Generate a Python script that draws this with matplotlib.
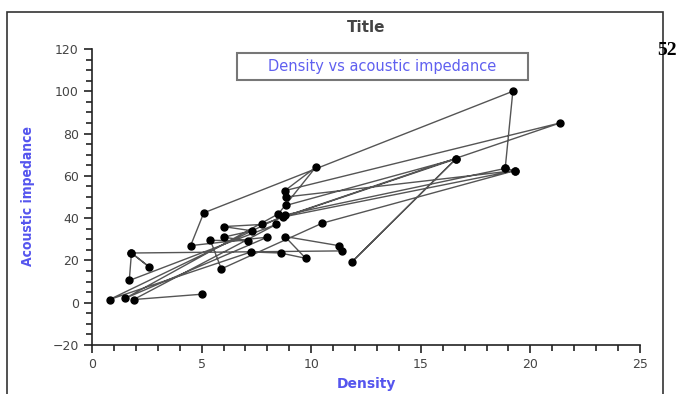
import matplotlib
matplotlib.use('Agg')
import matplotlib.pyplot as plt
from matplotlib.patches import Rectangle
from matplotlib.ticker import MultipleLocator

# puntos en el orden de los datos (densidad, impedancia acustica)
density = [5.0, 1.9, 8.4, 1.7, 1.8, 2.6, 1.8, 11.4, 11.25, 8.8, 9.75, 8.6, 7.25,
           0.8, 8.8, 18.85, 19.2, 5.1, 4.5, 8.0, 1.5, 8.5, 10.2, 8.8, 21.35, 8.7,
           19.3, 8.85, 8.85, 16.6, 11.85, 16.6, 7.75, 6.0, 7.3, 6.0, 7.1, 5.4,
           5.9, 10.5, 19.3, 18.85]
impedance = [4, 1.5, 37, 10.5, 23.5, 17, 23.5, 24.5, 27, 31.3, 21, 23.5, 24,
             1.5, 41.5, 63.5, 100, 42.5, 27, 31, 2, 42, 64, 53, 85, 40.5,
             62.5, 50, 46, 68, 19.2, 68, 37, 36, 34, 31, 29.3, 29.5,
             16, 37.6, 62.5, 63.5]

fig = plt.figure(figsize=(6.82, 3.94), dpi=100)
ax = fig.add_axes([0.1349, 0.1244, 0.8035, 0.7513])

ax.plot(density, impedance, color='#555555', lw=1, marker='o',
        markersize=5, markerfacecolor='black', markeredgecolor='black')

ax.set_xlim(0, 25)
ax.set_ylim(-20, 120)
ax.xaxis.set_major_locator(MultipleLocator(5))
ax.xaxis.set_minor_locator(MultipleLocator(1))
ax.yaxis.set_major_locator(MultipleLocator(20))
ax.yaxis.set_minor_locator(MultipleLocator(5))
ax.tick_params(which='major', length=6, width=1.2, color='#222222',
               labelcolor='#444444', labelsize=9)
ax.tick_params(which='minor', length=4, width=1.2, color='#222222')
for s in ['top', 'right']:
    ax.spines[s].set_visible(False)
for s in ['left', 'bottom']:
    ax.spines[s].set_linewidth(1.2)
    ax.spines[s].set_color('#222222')

# marco exterior
fig.patches.append(Rectangle((7/682, -0.02), 656/682, 1.02 - 12/394,
                             transform=fig.transFigure, fill=False,
                             edgecolor='#333333', lw=1.2))

fig.text(0.537, 0.929, 'Title', ha='center', va='center', fontsize=11,
         fontweight='bold', color='#444444')

fig.patches.append(Rectangle((237/682, 1 - 80/394), 291/682, 27/394,
                             transform=fig.transFigure, fill=False,
                             edgecolor='#777777', lw=1.5))
fig.text(0.561, 0.831, 'Density vs acoustic impedance', ha='center',
         va='center', fontsize=10.5, color='#6060f0')

fig.text(0.041, 0.5025, 'Acoustic impedance', rotation=90, ha='center',
         va='center', fontsize=10, fontweight='bold', color='#5555ee',
         family=['DejaVu Sans Condensed', 'Liberation Sans Narrow', 'DejaVu Sans'],
         fontstretch='condensed')
fig.text(0.537, 0.0254, 'Density', ha='center', va='center', fontsize=10,
         fontweight='bold', color='#5555ee')

fig.text(0.963, 0.873, '52', ha='left', va='center', fontsize=14,
         fontweight='bold', family=['Liberation Serif', 'DejaVu Serif'])

fig.savefig('out.png', dpi=100)
